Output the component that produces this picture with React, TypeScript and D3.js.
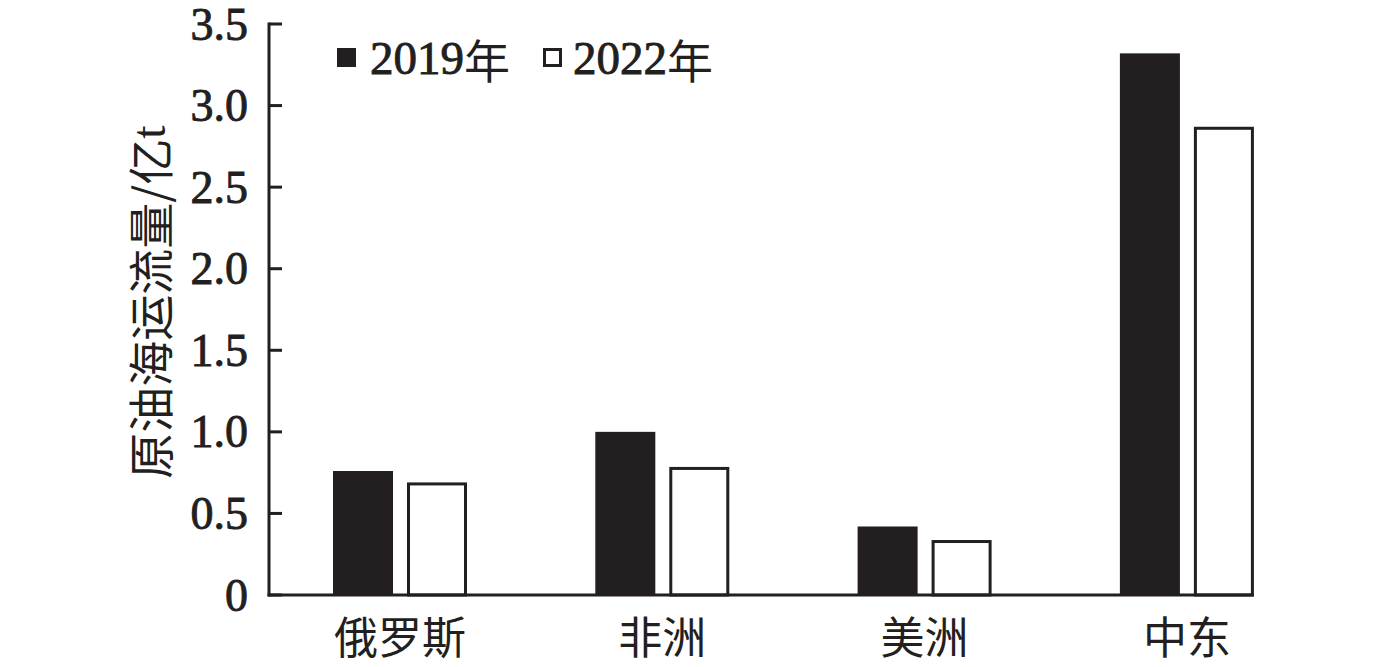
import * as d3 from "d3";
import React from "react";

const categories = ["俄罗斯", "非洲", "美洲", "中东"];
const seriesNames = ["2019年", "2022年"];
const values2019 = [0.76, 1.0, 0.42, 3.32];
const values2022 = [0.69, 0.785, 0.337, 2.87];
const yTicks = [0, 0.5, 1.0, 1.5, 2.0, 2.5, 3.0, 3.5];

const W = 1378;
const H = 667;
const left = 269;
const bottom = 595;
const top = 24;
const step = 262.3;

const serif = "'Liberation Serif', 'Times New Roman', serif";
const cjk = "'Noto Sans CJK SC', sans-serif";
const ink = "#231f20";

export function App() {
  const x = d3.scaleBand<string>().domain(categories).range([left, left + step * categories.length]);
  const x1 = d3.scaleBand<string>().domain(seriesNames).range([64, 198]).paddingInner(0.189);
  const y = d3.scaleLinear().domain([0, 3.5]).range([bottom, top]);
  const bw = x1.bandwidth();
  const axisEnd = (x(categories[categories.length - 1]) ?? 0) + (x1(seriesNames[1]) ?? 0) + bw;

  const fmt = (v: number) => (v === 0 ? "0" : d3.format(".1f")(v));

  return (
    <svg width={W} height={H} style={{ display: "block", position: "absolute", left: 0, top: 0, background: "#fff" }}>
      {categories.map((c, i) => {
        const gx = x(c) ?? 0;
        const x2019 = gx + (x1(seriesNames[0]) ?? 0);
        const x2022 = gx + (x1(seriesNames[1]) ?? 0);
        return (
          <g key={c}>
            <rect x={x2019} y={y(values2019[i])} width={bw} height={bottom - y(values2019[i])} fill={ink} />
            <rect
              x={x2022 + 1.5}
              y={y(values2022[i]) + 1.5}
              width={bw - 3}
              height={bottom - y(values2022[i]) - 1.5}
              fill="#fff"
              stroke={ink}
              strokeWidth={3}
            />
            <text
              x={gx + 131}
              y={635}
              textAnchor="middle"
              dominantBaseline="central"
              fontFamily={cjk}
              fontSize={44}
              fill={ink}
            >
              {c}
            </text>
          </g>
        );
      })}

      {/* axes */}
      <line x1={left} x2={left} y1={top - 1.5} y2={bottom + 1.5} stroke={ink} strokeWidth={3} />
      <line x1={left - 1.5} x2={axisEnd} y1={bottom} y2={bottom} stroke={ink} strokeWidth={3} />
      {yTicks.map((t) => (
        <g key={t}>
          <line x1={left} x2={left + 13} y1={y(t)} y2={y(t)} stroke={ink} strokeWidth={3} />
          <text
            x={248}
            y={y(t)}
            textAnchor="end"
            dominantBaseline="central"
            fontFamily={serif}
            fontSize={46}
            fill={ink}
            stroke={ink}
            strokeWidth={0.9}
          >
            {fmt(t)}
          </text>
        </g>
      ))}

      <text
        transform={`translate(148, 302) rotate(-90)`}
        textAnchor="middle"
        dominantBaseline="central"
        fontFamily={cjk}
        fontSize={46}
        fill={ink}
      >
        原油海运流量/亿<tspan fontFamily={serif} fontSize={48}>t</tspan>
      </text>

      {/* legend */}
      <rect x={337} y={48} width={19} height={19} fill={ink} />
      <text x={370} y={58} dominantBaseline="central" fontFamily={serif} fontSize={47} fill={ink} stroke={ink} strokeWidth={0.9}>
        2019<tspan fontFamily={cjk} fontSize={46} strokeWidth={0}>年</tspan>
      </text>
      <rect x={544.5} y={49.5} width={16} height={16} fill="#fff" stroke={ink} strokeWidth={3} />
      <text x={573} y={58} dominantBaseline="central" fontFamily={serif} fontSize={47} fill={ink} stroke={ink} strokeWidth={0.9}>
        2022<tspan fontFamily={cjk} fontSize={46} strokeWidth={0}>年</tspan>
      </text>
    </svg>
  );
}

export default App;
